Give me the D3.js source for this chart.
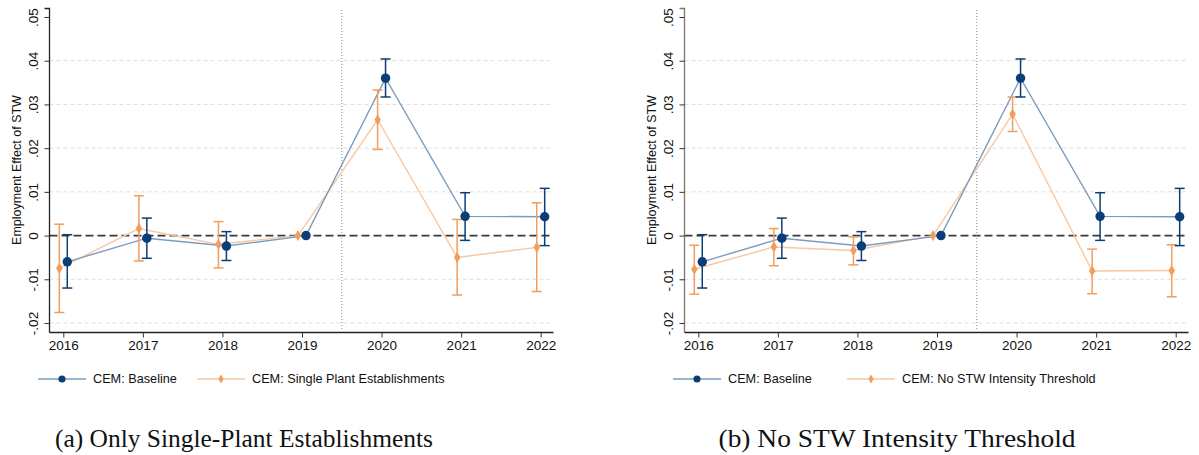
<!DOCTYPE html>
<html>
<head>
<meta charset="utf-8">
<script src="https://cdn.jsdelivr.net/npm/d3@7"></script>
<style>
  body { margin: 0; background: #fff; }
  svg { display: block; }
  text { font-family: "Liberation Sans", Arial, sans-serif; fill: #111; }
  .caption { font-family: "Liberation Serif", "Times New Roman", serif; }
</style>
</head>
<body>
<div id="chart"></div>
<script>
// Years on the x axis
const years = [2016, 2017, 2018, 2019, 2020, 2021, 2022];

// Y tick values and their Stata-style labels
const yTicks = [0.05, 0.04, 0.03, 0.02, 0.01, 0, -0.01, -0.02];
const yTickLabels = [".05", ".04", ".03", ".02", ".01", "0", "-.01", "-.02"];

// CEM: Baseline (same in both panels)
const baseEst = [-0.0060, -0.0006, -0.0024, 0, 0.0360, 0.0044, 0.0043];
const baseLo  = [-0.0120, -0.0052, -0.0057, 0, 0.0317, -0.0011, -0.0023];
const baseHi  = [0.0002, 0.0040, 0.0009, 0, 0.0404, 0.0098, 0.0108];

// Panel (a): single plant establishments
const singleEst = [-0.0075, 0.0016, -0.0020, 0, 0.0265, -0.0050, -0.0027];
const singleLo  = [-0.0176, -0.0058, -0.0074, 0, 0.0197, -0.0136, -0.0128];
const singleHi  = [0.0026, 0.0091, 0.0032, 0, 0.0333, 0.0037, 0.0075];

// Panel (b): no STW intensity threshold
const noThrEst = [-0.0077, -0.0026, -0.0034, 0, 0.0278, -0.0081, -0.0080];
const noThrLo  = [-0.0134, -0.0069, -0.0067, 0, 0.0238, -0.0133, -0.0140];
const noThrHi  = [-0.0022, 0.0016, -0.0003, 0, 0.0317, -0.0031, -0.0021];

const panelLabels = ["CEM: Single Plant Establishments", "CEM: No STW Intensity Threshold"];
const captions = ["(a) Only Single-Plant Establishments", "(b) No STW Intensity Threshold"];
const yLabel = "Employment Effect of STW";

const width = 1199, height = 455;

const svg = d3.select("#chart").append("svg")
    .attr("width", width)
    .attr("height", height);

// colours
const navy = "#0b3d77";
const navyLine = "#7d9bbd";
const orange = "#f29d5c";
const orangeLine = "#f8c8a0";

// rows of {year, est, lo, hi}
function rows(est, lo, hi) {
    return years.map((yr, i) => ({ year: yr, est: est[i], lo: lo[i], hi: hi[i], ci: yr !== 2019 }));
}

function drawPanel(offsetX, altRows, altLabel, caption, opts) {
    const g = svg.append("g").attr("transform", `translate(${offsetX},0)`);

    const axisX = 49.5, axisEnd = 553.5;
    const x = d3.scaleLinear().domain([2016, 2022]).range([63.3, 540.7]);
    const y = d3.scaleLinear().domain([0.05, -0.02]).range([17, 323]);
    const axisBottom = 332.5;
    const shift = 0.05; // dodge in years

    // gridlines
    g.selectAll(".grid")
        .data(yTicks.filter(t => t !== 0 && t !== 0.05))
        .enter().append("line")
        .attr("x1", axisX).attr("x2", axisEnd)
        .attr("y1", d => y(d)).attr("y2", d => y(d))
        .attr("stroke", "#dedede")
        .attr("stroke-width", 1)
        .attr("stroke-dasharray", "4,3");

    // zero line
    g.append("line")
        .attr("x1", axisX).attr("x2", axisEnd)
        .attr("y1", y(0)).attr("y2", y(0))
        .attr("stroke", "#3a3a3a")
        .attr("stroke-width", 1.8)
        .attr("stroke-dasharray", "8,4");

    // event line between 2019 and 2020
    g.append("line")
        .attr("x1", x(2019.5)).attr("x2", x(2019.5))
        .attr("y1", 10).attr("y2", 329)
        .attr("stroke", "#888")
        .attr("stroke-width", 1)
        .attr("stroke-dasharray", "1,2");

    // y axis
    const yAxis = d3.axisLeft(y)
        .tickValues(yTicks)
        .tickSize(5)
        .tickFormat((d, i) => yTickLabels[i]);
    const ya = g.append("g")
        .attr("transform", `translate(${axisX},0)`)
        .call(yAxis);
    ya.select(".domain").attr("d", `M-5,8.5H0V${axisBottom}`).attr("stroke", opts.axisColor).attr("stroke-width", 1.3);
    ya.selectAll(".tick line").attr("stroke", "#333");
    ya.selectAll(".tick text")
        .attr("font-size", 13.5)
        .attr("fill", "#111")
        .attr("text-anchor", "middle")
        .attr("transform", "rotate(-90)")
        .attr("x", 0)
        .attr("y", -16.5)
        .attr("dy", "0.35em");

    // x axis
    const xAxis = d3.axisBottom(x)
        .tickValues(years)
        .tickSize(5)
        .tickFormat(d3.format("d"));
    const xa = g.append("g")
        .attr("transform", `translate(0,${axisBottom})`)
        .call(xAxis);
    xa.select(".domain").attr("d", `M${axisX},0H${axisEnd}`).attr("stroke", "#222").attr("stroke-width", 1.3);
    xa.selectAll(".tick line").attr("stroke", "#333");
    xa.selectAll(".tick text").attr("font-size", 13.5).attr("fill", "#111").attr("y", 8);

    // y label
    g.append("text")
        .attr("transform", `translate(17,${y(0.015)}) rotate(-90)`)
        .attr("text-anchor", "middle")
        .attr("dy", "0.35em")
        .attr("font-size", 12.5)
        .text(yLabel);

    const series = [
        { data: altRows, dx: -shift, color: orange, line: orangeLine, shape: "diamond", cap: 5 },
        { data: rows(baseEst, baseLo, baseHi), dx: shift, color: navy, line: navyLine, shape: "circle", cap: 5 }
    ];

    const lineGen = d3.line();

    series.forEach(s => {
        g.append("path")
            .attr("d", lineGen(s.data.map(d => [x(d.year + s.dx), y(d.est)])))
            .attr("fill", "none")
            .attr("stroke", s.line)
            .attr("stroke-width", 1.4);
    });

    series.forEach(s => {
        const ci = g.append("g");
        const withCi = s.data.filter(d => d.ci);
        ci.selectAll(".v").data(withCi).enter().append("line")
            .attr("x1", d => x(d.year + s.dx)).attr("x2", d => x(d.year + s.dx))
            .attr("y1", d => y(d.lo)).attr("y2", d => y(d.hi))
            .attr("stroke", s.color).attr("stroke-width", 1.5);
        ["lo", "hi"].forEach(k => {
            ci.selectAll(".c" + k).data(withCi).enter().append("line")
                .attr("x1", d => x(d.year + s.dx) - s.cap).attr("x2", d => x(d.year + s.dx) + s.cap)
                .attr("y1", d => y(d[k])).attr("y2", d => y(d[k]))
                .attr("stroke", s.color).attr("stroke-width", 1.5);
        });
    });

    series.forEach(s => {
        const sym = s.shape === "circle"
            ? d3.symbol().type(d3.symbolCircle).size(70)
            : d3.symbol().type(d3.symbolDiamond).size(36);
        g.selectAll(null).data(s.data).enter().append("path")
            .attr("d", sym)
            .attr("transform", d => `translate(${x(d.year + s.dx)},${y(d.est)})`)
            .attr("fill", s.color);
    });

    // legend
    const legY = 379;
    const legend = [
        { x0: 38, label: "CEM: Baseline", color: navy, line: navyLine, shape: "circle" },
        { x0: opts.leg2X, label: altLabel, color: orange, line: orangeLine, shape: "diamond" }
    ];
    legend.forEach(l => {
        g.append("line")
            .attr("x1", l.x0).attr("x2", l.x0 + 48)
            .attr("y1", legY).attr("y2", legY)
            .attr("stroke", l.line).attr("stroke-width", 1.4);
        const sym = l.shape === "circle"
            ? d3.symbol().type(d3.symbolCircle).size(40)
            : d3.symbol().type(d3.symbolDiamond).size(24);
        g.append("path")
            .attr("d", sym)
            .attr("transform", `translate(${l.x0 + 24},${legY})`)
            .attr("fill", l.color);
        g.append("text")
            .attr("x", l.x0 + 55)
            .attr("y", legY)
            .attr("dy", "0.35em")
            .attr("font-size", 12.7)
            .text(l.label);
    });

    // caption
    g.append("text")
        .attr("class", "caption")
        .attr("x", opts.capX)
        .attr("y", 447)
        .attr("text-anchor", "middle")
        .attr("font-size", 25)
        .attr("textLength", opts.capW)
        .attr("lengthAdjust", "spacingAndGlyphs")
        .text(caption);
}

drawPanel(0, rows(singleEst, singleLo, singleHi), panelLabels[0], captions[0],
    { axisColor: "#222", capX: 244, capW: 378, leg2X: 197 });
drawPanel(635, rows(noThrEst, noThrLo, noThrHi), panelLabels[1], captions[1],
    { axisColor: "#777", capX: 262, capW: 357, leg2X: 212 });
</script>
</body>
</html>
